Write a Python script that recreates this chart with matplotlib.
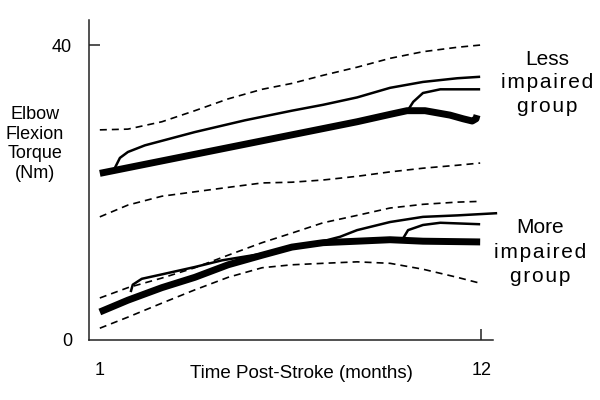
import matplotlib
matplotlib.use("Agg")
import matplotlib.pyplot as plt

plt.rcParams['font.family'] = ['Liberation Sans', 'DejaVu Sans']

# Less impaired group
less_mean_x = [1, 8.42, 9.37, 9.86, 10.38, 11.10, 11.48, 11.74, 11.85, 11.88]
less_mean_y = [22.6, 29.6, 30.6, 31.1, 31.1, 30.5, 30.0, 29.7, 30.0, 30.5]
less_a_x = [1.38, 1.43, 1.58, 1.81, 2.30, 3.74, 5.19, 6.54, 7.44, 8.42, 9.37, 10.32, 11.31, 11.97]
less_a_y = [22.8, 23.3, 24.7, 25.5, 26.4, 28.2, 29.8, 31.1, 31.9, 32.9, 34.2, 35.0, 35.5, 35.7]
less_b_x = [9.89, 10.04, 10.32, 10.82, 11.97]
less_b_y = [31.2, 32.3, 33.5, 34.0, 34.0]
months = [1, 1.81, 2.79, 3.74, 4.70, 5.68, 6.54, 7.44, 8.42, 9.37, 10.32, 11.31, 11.97]
less_hi_y = [28.5, 28.6, 29.6, 31.1, 32.7, 34.0, 34.8, 35.9, 37.0, 38.2, 39.1, 39.7, 40.0]
less_lo_y = [16.7, 18.3, 19.5, 20.1, 20.7, 21.3, 21.4, 21.7, 22.2, 22.8, 23.3, 23.7, 24.0]

# More impaired group
more_mean_x = [1, 1.81, 2.79, 3.74, 4.70, 5.68, 6.54, 7.44, 8.42, 9.37, 10.32, 11.97]
more_mean_y = [3.8, 5.4, 7.1, 8.5, 10.2, 11.5, 12.6, 13.2, 13.4, 13.6, 13.4, 13.3]
more_a_x = [1.89, 1.95, 2.21, 2.79, 3.74, 4.52, 5.68, 6.54, 7.44, 7.93, 8.42, 9.37, 10.32, 11.31, 12.46]
more_a_y = [6.5, 7.5, 8.3, 8.9, 9.9, 10.8, 11.7, 12.6, 13.4, 14.0, 14.9, 16.0, 16.7, 16.9, 17.2]
more_b_x = [9.75, 9.89, 10.32, 10.82, 11.97]
more_b_y = [13.8, 14.9, 15.6, 15.9, 15.7]
more_hi_y = [5.7, 7.1, 8.4, 9.8, 11.5, 13.2, 14.5, 15.9, 16.9, 17.9, 18.4, 18.7, 18.8]
more_lo_y = [1.6, 3.1, 5.0, 6.8, 8.5, 9.8, 10.2, 10.4, 10.6, 10.4, 9.6, 8.5, 7.7]

fig = plt.figure(figsize=(6, 4), dpi=100)
ax = fig.add_axes([0.148, 0.15, 0.674, 0.80])

# mean trajectories
for xs, ys in [(less_mean_x, less_mean_y), (more_mean_x, more_mean_y)]:
    ax.plot(xs, ys, color='black', lw=5, solid_capstyle='butt', solid_joinstyle='round')

# individual trajectories
for xs, ys in [(less_a_x, less_a_y), (less_b_x, less_b_y),
               (more_a_x, more_a_y), (more_b_x, more_b_y)]:
    ax.plot(xs, ys, color='black', lw=1.8, solid_capstyle='butt',
            solid_joinstyle='round', clip_on=False)

# bounds
for ys in [less_hi_y, less_lo_y, more_hi_y, more_lo_y]:
    ax.plot(months, ys, color='black', lw=1.2, dashes=(4.2, 3.0), clip_on=False)

ax.set_xlim(0.682, 12.346)
ax.set_ylim(0, 43.4)

for s in ['top', 'right']:
    ax.spines[s].set_visible(False)
for s in ['left', 'bottom']:
    ax.spines[s].set_linewidth(1.1)
    ax.spines[s].set_color('#222222')

ax.set_xticks([1, 12])
ax.set_xticklabels(['1', '12'])
ax.set_yticks([0, 40])
ax.set_yticklabels(['0', '40'])
ax.tick_params(axis='both', direction='in', length=8, width=1.1, color='#222222',
               labelsize=13)
ax.tick_params(axis='x', pad=16)
ax.tick_params(axis='y', pad=12)
ax.xaxis.get_major_ticks()[0].tick1line.set_visible(False)
ax.yaxis.get_major_ticks()[0].tick1line.set_visible(False)

fig.text(301 / 600, 1 - 374 / 400, "Time Post-Stroke (months)", ha='center', va='center',
         fontsize=13.5)

fig.text(35 / 600, 1 - 144 / 400, "Elbow\nFlexion\nTorque\n(Nm)", ha='center', va='center',
         fontsize=13, linespacing=1.2)

sp = "\u200a"
fig.text(547 / 600, 1 - 83 / 400, "Less\n" + sp.join("impaired") + "\n" + sp.join("group"),
         ha='center', va='center', fontsize=15, linespacing=1.32)
fig.text(540 / 600, 1 - 252 / 400, "More\n" + sp.join("impaired") + "\n" + sp.join("group"),
         ha='center', va='center', fontsize=15, linespacing=1.36)

plt.savefig("out.png", dpi=100)
plt.close()
